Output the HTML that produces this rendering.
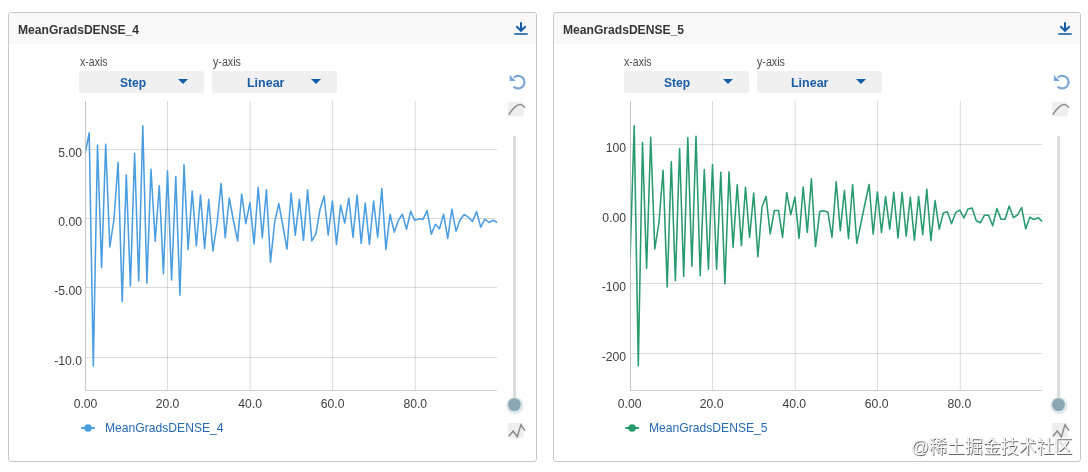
<!DOCTYPE html>
<html><head><meta charset="utf-8"><title>MeanGrads</title>
<style>
html,body{margin:0;padding:0;background:#fff;}
body{width:1088px;height:472px;position:relative;overflow:hidden;font-family:"Liberation Sans","Noto Sans CJK SC",sans-serif;}
.abs{position:absolute;}
.panel{position:absolute;top:12px;width:527px;height:448px;border:1px solid #c9c9c9;border-radius:3px;background:#fff;}
.hdr{position:absolute;top:13px;width:527px;height:31px;background:#f8f8f8;border-radius:2px 2px 0 0;}
.title{position:absolute;top:20.8px;transform:scaleX(.896);transform-origin:0 50%;font-size:13.5px;line-height:18px;font-weight:bold;color:#363636;white-space:nowrap;}
.lab{position:absolute;top:54px;transform-origin:0 50%;font-size:12px;line-height:16px;color:#4a4a4a;white-space:nowrap;}
.dd{position:absolute;top:71px;width:124.6px;height:22px;background:#f0f0f0;border-radius:3px;}
.ddt{position:absolute;top:2.7px;transform-origin:0 50%;font-size:13px;line-height:18px;font-weight:bold;color:#1b5ea6;white-space:nowrap;}
.tri{position:absolute;top:8px;width:0;height:0;border-left:5px solid transparent;border-right:5px solid transparent;border-top:5.5px solid #135da8;}
.leg{position:absolute;top:419.4px;transform:scaleX(.932);transform-origin:0 50%;font-size:13px;line-height:18px;color:#2569b3;white-space:nowrap;}
svg.chart{position:absolute;left:0;top:0;}
.g{stroke:rgba(60,60,60,.185);stroke-width:1;}
.t{font-family:"Liberation Sans",sans-serif;font-size:12.2px;fill:#404040;}
.wm{position:absolute;left:911px;top:433.5px;font-size:17.9px;line-height:26px;color:rgba(255,255,255,.95);white-space:nowrap;text-shadow:0.8px 0.8px 0.5px rgba(0,0,0,.6),-0.3px -0.3px 0.5px rgba(0,0,0,.25);font-family:"Liberation Sans","Noto Sans CJK SC",sans-serif;}
</style></head><body>

<div class="panel" style="left:8px;width:527px"></div>
<div class="hdr" style="left:9px;width:527px"></div>
<div class="title" style="left:18.4px">MeanGradsDENSE_4</div>
<svg class="abs" style="left:512px;top:19px" width="18" height="18" viewBox="0 0 18 18"><path d="M9 3.3V11.2M4.4 7.2L9 11.8L13.6 7.2" fill="none" stroke="#135da8" stroke-width="2"/><path d="M2.3 15H15.7" stroke="#135da8" stroke-width="1.6"/></svg>
<div class="lab" style="left:80px;transform:scaleX(.88)">x-axis</div>
<div class="lab" style="left:212.8px;transform:scaleX(.89)">y-axis</div>
<div class="dd" style="left:79.4px"><span class="ddt" style="left:40.6px;transform:scaleX(.932)">Step</span><i class="tri" style="left:98.6px"></i></div>
<div class="dd" style="left:212px"><span class="ddt" style="left:35.2px;transform:scaleX(.96)">Linear</span><i class="tri" style="left:99.0px"></i></div>
<div class="leg" style="left:105px">MeanGradsDENSE_4</div>
<div class="panel" style="left:553px;width:526px"></div>
<div class="hdr" style="left:554px;width:526px"></div>
<div class="title" style="left:562.5px">MeanGradsDENSE_5</div>
<svg class="abs" style="left:1056.1px;top:19px" width="18" height="18" viewBox="0 0 18 18"><path d="M9 3.3V11.2M4.4 7.2L9 11.8L13.6 7.2" fill="none" stroke="#135da8" stroke-width="2"/><path d="M2.3 15H15.7" stroke="#135da8" stroke-width="1.6"/></svg>
<div class="lab" style="left:624.1px;transform:scaleX(.88)">x-axis</div>
<div class="lab" style="left:756.9000000000001px;transform:scaleX(.89)">y-axis</div>
<div class="dd" style="left:624.4px"><span class="ddt" style="left:39.700000000000045px;transform:scaleX(.932)">Step</span><i class="tri" style="left:98.15px"></i></div>
<div class="dd" style="left:757px"><span class="ddt" style="left:34.30000000000007px;transform:scaleX(.96)">Linear</span><i class="tri" style="left:98.55000000000001px"></i></div>
<div class="leg" style="left:649.1px">MeanGradsDENSE_5</div>
<svg class="chart" width="1088" height="472" viewBox="0 0 1088 472"><line x1="167.5" y1="101" x2="167.5" y2="390" class="g"/>
<line x1="250.2" y1="101" x2="250.2" y2="390" class="g"/>
<line x1="332.6" y1="101" x2="332.6" y2="390" class="g"/>
<line x1="415.3" y1="101" x2="415.3" y2="390" class="g"/>
<line x1="85.5" y1="149.5" x2="497" y2="149.5" class="g"/>
<line x1="85.5" y1="218.5" x2="497" y2="218.5" class="g"/>
<line x1="85.5" y1="287.5" x2="497" y2="287.5" class="g"/>
<line x1="85.5" y1="357.5" x2="497" y2="357.5" class="g"/>
<path d="M85.5 101V390.5" fill="none" stroke="#c6c6c6" stroke-width="1"/>
<path d="M85 390.5H497" fill="none" stroke="#cdcdcd" stroke-width="1"/>
<clipPath id="cp0"><rect x="85.6" y="101" width="411.6" height="289"/></clipPath>
<polyline clip-path="url(#cp0)" points="85.1,153.5 89.2,132.8 93.3,365.9 97.5,145.0 101.6,267.8 105.7,144.2 109.8,246.9 113.9,220.0 118.1,162.2 122.2,301.6 126.3,174.9 130.4,285.9 134.6,153.3 138.7,280.9 142.8,125.8 146.9,282.9 151.0,169.2 155.2,241.3 159.3,185.8 163.4,273.6 167.5,170.9 171.6,279.9 175.8,176.5 179.9,295.2 184.0,164.8 188.1,249.4 192.2,191.1 196.4,245.9 200.5,195.1 204.6,248.4 208.7,199.2 212.9,251.0 217.0,224.0 221.1,183.4 225.2,237.8 229.3,198.0 233.5,221.0 237.6,240.9 241.7,194.1 245.8,223.7 249.9,202.6 254.1,243.9 258.2,187.4 262.3,237.8 266.4,189.9 270.5,262.1 274.7,222.0 278.8,203.6 282.9,226.0 287.0,249.1 291.1,193.0 295.3,235.2 299.4,199.4 303.5,240.3 307.6,189.9 311.8,240.9 315.9,233.8 320.0,209.5 324.1,196.0 328.2,235.2 332.4,201.0 336.5,244.4 340.6,205.1 344.7,223.1 348.8,198.0 353.0,237.3 357.1,195.0 361.2,243.4 365.3,203.1 369.4,244.4 373.6,201.0 377.7,237.3 381.8,188.5 385.9,249.4 390.1,214.2 394.2,232.2 398.3,220.7 402.4,214.2 406.5,229.2 410.7,211.2 414.8,220.4 418.9,218.8 423.0,219.4 427.1,210.6 431.3,234.2 435.4,224.3 439.5,228.8 443.6,214.2 447.7,238.3 451.9,209.1 456.0,231.2 460.1,219.7 464.2,214.6 468.4,217.2 472.5,221.5 476.6,211.6 480.7,227.1 484.8,219.2 489.0,222.5 493.1,220.3 497.2,222.3" fill="none" stroke="#4a9de0" stroke-width="1.55" stroke-linejoin="round" stroke-linecap="round"/>
<text x="82" y="156.8" text-anchor="end" class="t">5.00</text>
<text x="82" y="225.8" text-anchor="end" class="t">0.00</text>
<text x="82" y="294.8" text-anchor="end" class="t">-5.00</text>
<text x="82" y="364.8" text-anchor="end" class="t">-10.0</text>
<text x="85.5" y="407.8" text-anchor="middle" class="t">0.00</text>
<text x="167.5" y="407.8" text-anchor="middle" class="t">20.0</text>
<text x="250.2" y="407.8" text-anchor="middle" class="t">40.0</text>
<text x="332.6" y="407.8" text-anchor="middle" class="t">60.0</text>
<text x="415.3" y="407.8" text-anchor="middle" class="t">80.0</text>
<line x1="81.2" y1="428" x2="94.8" y2="428" stroke="#4a9de0" stroke-width="2"/>
<circle cx="88" cy="428" r="3.8" fill="#4a9de0"/>
<path d="M513.9 77.5A6.3 6.3 0 1 1 513.6 86.4" fill="none" stroke="#7ba7d7" stroke-width="2.2"/>
<path d="M509.7 75V80.9H515.8Z" fill="#7ba7d7"/>
<rect x="508" y="102" width="15.5" height="14.6" fill="#eeeeee"/>
<path d="M508.8 114.6Q516 103.5 521 104.6Q523.5 105.3 524.8 107.8" fill="none" stroke="#8a8a8a" stroke-width="1.45"/>
<rect x="513" y="136" width="3" height="262" fill="#dcdcdc"/>
<circle cx="514.8" cy="405.4" r="8.6" fill="#d9e6ea" opacity="0.9"/>
<circle cx="514.4" cy="404.6" r="6.4" fill="#8aa7b3"/>
<rect x="508" y="423" width="15.5" height="14.8" fill="#eeeeee"/>
<path d="M508.8 436.2L513.2 431L517.3 436.8L520.9 424.9L525 430.7" fill="none" stroke="#888" stroke-width="1.45"/>
<line x1="712.5" y1="101" x2="712.5" y2="390" class="g"/>
<line x1="795.2" y1="101" x2="795.2" y2="390" class="g"/>
<line x1="877.6" y1="101" x2="877.6" y2="390" class="g"/>
<line x1="960.3" y1="101" x2="960.3" y2="390" class="g"/>
<line x1="630.5" y1="144.5" x2="1042" y2="144.5" class="g"/>
<line x1="630.5" y1="214.5" x2="1042" y2="214.5" class="g"/>
<line x1="630.5" y1="283.5" x2="1042" y2="283.5" class="g"/>
<line x1="630.5" y1="353.5" x2="1042" y2="353.5" class="g"/>
<path d="M630.5 101V390.5" fill="none" stroke="#c6c6c6" stroke-width="1"/>
<path d="M630 390.5H1042" fill="none" stroke="#cdcdcd" stroke-width="1"/>
<clipPath id="cp545"><rect x="630.6" y="101" width="411.6" height="289"/></clipPath>
<polyline clip-path="url(#cp545)" points="630.1,257.7 634.2,125.8 638.3,365.8 642.5,142.6 646.6,268.2 650.7,137.3 654.8,249.0 658.9,223.0 663.1,170.3 667.2,286.9 671.3,161.8 675.4,280.4 679.6,148.6 683.7,276.4 687.8,137.5 691.9,266.2 696.0,136.3 700.2,275.8 704.3,169.6 708.4,269.2 712.5,164.6 716.6,269.2 720.8,172.3 724.9,283.9 729.0,171.9 733.1,247.4 737.2,184.8 741.4,245.6 745.5,187.4 749.6,237.5 753.7,193.1 757.9,256.7 762.0,206.7 766.1,196.6 770.2,233.8 774.3,210.6 778.5,210.4 782.6,237.3 786.7,192.5 790.8,214.6 794.9,197.1 799.1,238.3 803.2,187.0 807.3,232.4 811.4,178.7 815.5,246.6 819.7,211.6 823.8,210.8 827.9,212.2 832.0,237.3 836.2,181.8 840.3,230.6 844.4,190.5 848.5,238.7 852.6,184.5 856.8,243.3 860.9,223.3 865.0,203.5 869.1,184.5 873.2,234.2 877.4,191.9 881.5,232.6 885.6,196.6 889.7,229.2 893.8,192.3 898.0,237.9 902.1,192.3 906.2,236.2 910.3,197.0 914.4,240.3 918.6,196.4 922.7,234.6 926.8,189.3 930.9,240.7 935.1,200.6 939.2,229.2 943.3,213.0 947.4,211.8 951.5,223.7 955.7,212.6 959.8,210.1 963.9,218.0 968.0,208.9 972.1,208.1 976.3,220.7 980.4,222.7 984.5,215.2 988.6,215.2 992.7,225.7 996.9,208.5 1001.0,219.3 1005.1,219.3 1009.2,206.1 1013.4,217.6 1017.5,215.0 1021.6,207.5 1025.7,228.8 1029.8,217.2 1034.0,219.5 1038.1,217.6 1042.2,221.3" fill="none" stroke="#279a6e" stroke-width="1.55" stroke-linejoin="round" stroke-linecap="round"/>
<text x="626.1" y="151.8" text-anchor="end" class="t">100</text>
<text x="626.1" y="221.8" text-anchor="end" class="t">0.00</text>
<text x="626.1" y="290.8" text-anchor="end" class="t">-100</text>
<text x="626.1" y="360.8" text-anchor="end" class="t">-200</text>
<text x="629.6" y="407.8" text-anchor="middle" class="t">0.00</text>
<text x="711.6" y="407.8" text-anchor="middle" class="t">20.0</text>
<text x="794.3" y="407.8" text-anchor="middle" class="t">40.0</text>
<text x="876.7" y="407.8" text-anchor="middle" class="t">60.0</text>
<text x="959.4000000000001" y="407.8" text-anchor="middle" class="t">80.0</text>
<line x1="625.3000000000001" y1="428" x2="638.9" y2="428" stroke="#279a6e" stroke-width="2"/>
<circle cx="632.1" cy="428" r="3.8" fill="#279a6e"/>
<path d="M1058.0 77.5A6.3 6.3 0 1 1 1057.7 86.4" fill="none" stroke="#7ba7d7" stroke-width="2.2"/>
<path d="M1053.8 75V80.9H1059.9Z" fill="#7ba7d7"/>
<rect x="1052.1" y="102" width="15.5" height="14.6" fill="#eeeeee"/>
<path d="M1052.9 114.6Q1060.1 103.5 1065.1 104.6Q1067.6 105.3 1068.9 107.8" fill="none" stroke="#8a8a8a" stroke-width="1.45"/>
<rect x="1057.1" y="136" width="3" height="262" fill="#dcdcdc"/>
<circle cx="1058.9" cy="405.4" r="8.6" fill="#d9e6ea" opacity="0.9"/>
<circle cx="1058.5" cy="404.6" r="6.4" fill="#8aa7b3"/>
<rect x="1052.1" y="423" width="15.5" height="14.8" fill="#eeeeee"/>
<path d="M1052.9 436.2L1057.3000000000002 431L1061.4 436.8L1065.0 424.9L1069.1 430.7" fill="none" stroke="#888" stroke-width="1.45"/></svg>
<div class="wm">@稀土掘金技术社区</div>
</body></html>
